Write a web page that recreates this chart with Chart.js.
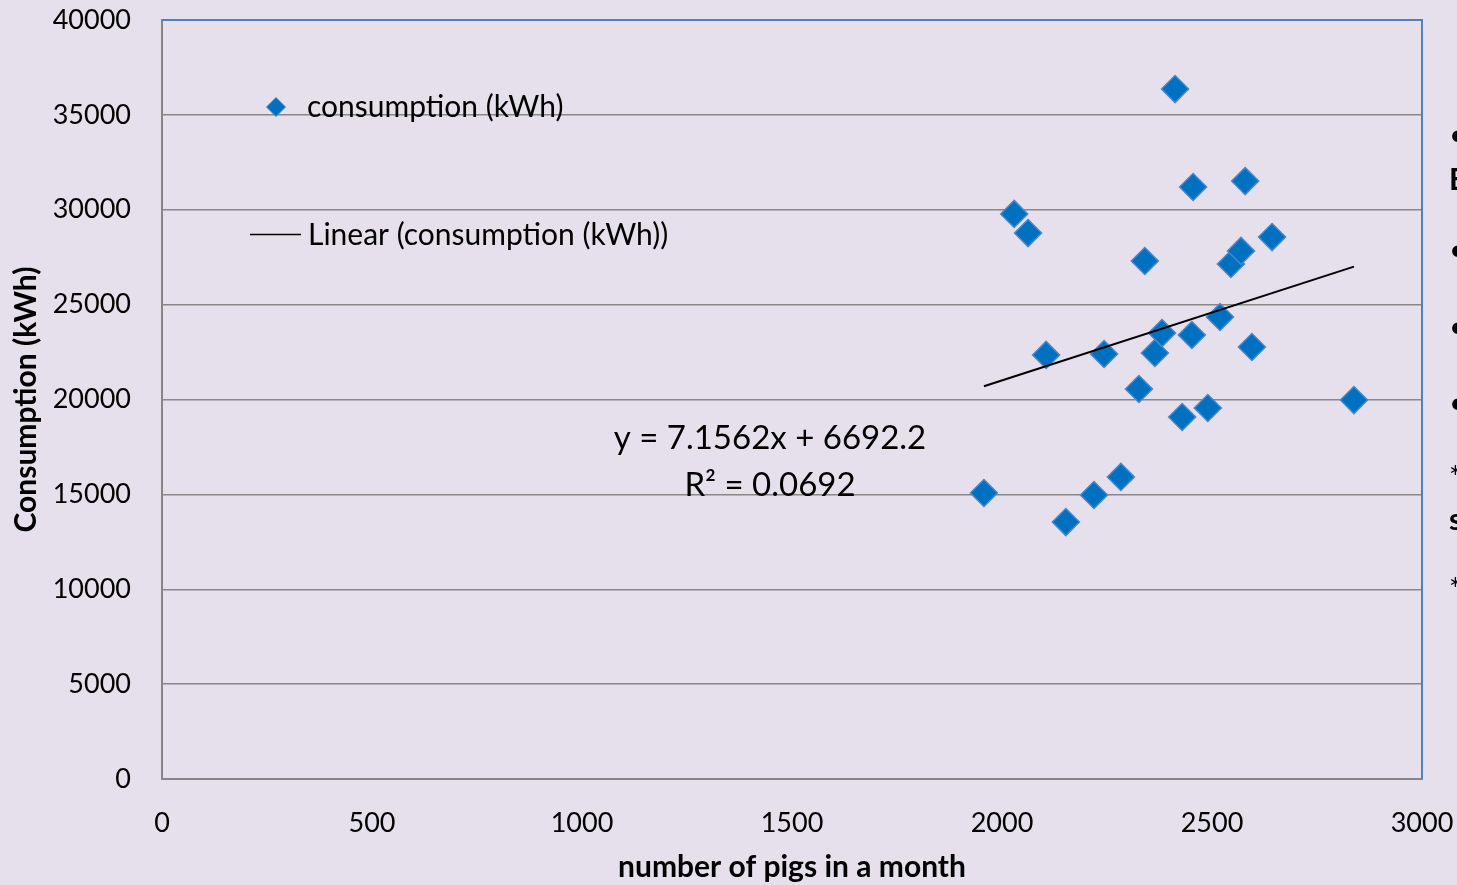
<!DOCTYPE html>
<html>
<head>
<meta charset="utf-8">
<script src="https://cdn.jsdelivr.net/npm/chart.js@4/dist/chart.umd.min.js"></script>
<style>
  html, body { margin: 0; padding: 0; background: #E5E0EC; overflow: hidden; }
  #wrap { width: 1457px; height: 885px; position: relative; }
</style>
</head>
<body>
<div id="wrap"><canvas id="c" width="1457" height="885"></canvas></div>
<script>
// Monthly herd size vs. electricity consumption
const pigs = [1957, 2029, 2062, 2105, 2152, 2219, 2243, 2283, 2326, 2340, 2364, 2381,
              2412, 2429, 2452, 2455, 2490, 2519, 2545, 2569, 2579, 2595, 2643, 2838];
const consumption = [15070, 29780, 28770, 22350, 13540, 14970, 22400, 15920, 20550, 27300, 22450, 23500,
                     36360, 19080, 23400, 31200, 19550, 24350, 27140, 27830, 31510, 22770, 28560, 19970];

// Linear trend as reported by the fit
const trendSlope = 7.1562;
const trendIntercept = 6692.2;
const rSquared = 0.0692;

const xTicks = [0, 500, 1000, 1500, 2000, 2500, 3000];
const yTicks = [0, 5000, 10000, 15000, 20000, 25000, 30000, 35000, 40000];

const seriesName = 'consumption (kWh)';
const trendName = 'Linear (consumption (kWh))';
const xTitle = 'number of pigs in a month';
const yTitle = 'Consumption (kWh)';
const sideText = ['•', 'E', '•', '•', '•', '*', 's', '*'];

const FONT = 'Lato, "Open Sans", sans-serif';
const pointFill = '#0070C0';
const pointEdge = '#4A86C8';

const points = pigs.map((x, i) => ({ x, y: consumption[i] }));
const xMin = Math.min(...pigs), xMax = Math.max(...pigs);
const trendPoints = [xMin, xMax].map(x => ({ x, y: trendSlope * x + trendIntercept }));

// keep tick label overflow from shrinking the plot area
const noEdgePadding = s => {
  s.paddingTop = 0; s.paddingBottom = 0; s.paddingLeft = 0; s.paddingRight = 0;
};

const decor = {
  id: 'decor',
  beforeDraw(chart) {
    const ctx = chart.ctx;
    ctx.save();
    ctx.fillStyle = '#E5E0EC';
    ctx.fillRect(0, 0, chart.width, chart.height);
    ctx.restore();
  },
  beforeDatasetsDraw(chart) {
    const { ctx, chartArea: a } = chart;
    ctx.save();
    ctx.strokeStyle = '#4F81BD';
    ctx.lineWidth = 2;
    ctx.beginPath();
    ctx.moveTo(a.left, a.top);
    ctx.lineTo(a.right, a.top);
    ctx.lineTo(a.right, a.bottom);
    ctx.stroke();
    ctx.restore();
  },
  afterDraw(chart) {
    const ctx = chart.ctx;
    ctx.save();
    // legend
    const dx = 276, dy = 107, r = 9.5;
    ctx.beginPath();
    ctx.moveTo(dx, dy - r); ctx.lineTo(dx + r, dy); ctx.lineTo(dx, dy + r); ctx.lineTo(dx - r, dy); ctx.closePath();
    ctx.fillStyle = pointFill; ctx.fill();
    ctx.strokeStyle = pointEdge; ctx.lineWidth = 1; ctx.stroke();
    ctx.strokeStyle = '#000'; ctx.lineWidth = 1.5;
    ctx.beginPath(); ctx.moveTo(250, 234.5); ctx.lineTo(301, 234.5); ctx.stroke();
    ctx.fillStyle = '#000';
    ctx.font = '30px ' + FONT;
    ctx.textAlign = 'left'; ctx.textBaseline = 'middle';
    ctx.fillText(seriesName, 307, 107);
    ctx.fillText(trendName, 308, 235);
    // trend equation
    ctx.font = '33px ' + FONT;
    ctx.textAlign = 'center';
    ctx.fillText('y = ' + trendSlope + 'x + ' + trendIntercept, 770, 438);
    ctx.fillText('R² = ' + rSquared, 770, 485);
    // neighbouring slide text
    ctx.textAlign = 'left';
    const ys = [135, 180, 250, 327, 403, 478, 520, 590];
    sideText.forEach((t, i) => {
      ctx.font = (t === 'E' || t === 's' ? 'bold ' : '') + '30px ' + FONT;
      ctx.fillText(t, 1449, ys[i]);
    });
    ctx.restore();
  }
};

new Chart(document.getElementById('c'), {
  type: 'scatter',
  data: {
    datasets: [
      {
        label: trendName,
        data: trendPoints,
        showLine: true,
        borderColor: '#000',
        borderWidth: 2,
        pointRadius: 0,
        fill: false,
        order: 0
      },
      {
        label: seriesName,
        data: points,
        pointStyle: 'rectRot',
        radius: 13.5,
        backgroundColor: pointFill,
        borderColor: pointEdge,
        borderWidth: 1.5,
        order: 1
      }
    ]
  },
  options: {
    responsive: false,
    animation: false,
    events: [],
    layout: { padding: { top: 20, right: 35, left: 0, bottom: 0 } },
    plugins: { legend: { display: false }, tooltip: { enabled: false } },
    scales: {
      x: {
        type: 'linear',
        min: 0, max: 3000,
        afterBuildTicks: s => { s.ticks = xTicks.map(v => ({ value: v })); },
        afterFit: s => { s.height = 106; noEdgePadding(s); },
        grid: { display: false },
        border: { display: true, color: '#868686', width: 2 },
        ticks: { color: '#000', font: { family: FONT, size: 27 }, padding: 20, maxRotation: 0,
                 callback: v => String(v) },
        title: { display: true, text: xTitle, color: '#000',
                 font: { family: FONT, size: 30, weight: 'bold', lineHeight: 1.15 }, padding: 0 }
      },
      y: {
        type: 'linear',
        min: 0, max: 40000,
        afterBuildTicks: s => { s.ticks = yTicks.map(v => ({ value: v })); },
        afterFit: s => { s.width = 162; noEdgePadding(s); },
        grid: { color: '#888888', lineWidth: 1.5, drawTicks: false },
        border: { display: true, color: '#868686', width: 2 },
        ticks: { color: '#000', font: { family: FONT, size: 27 }, padding: 31,
                 callback: v => String(v) },
        title: { display: true, text: yTitle, color: '#000',
                 font: { family: FONT, size: 30, weight: 'bold', lineHeight: 1.2 },
                 padding: { top: 8, bottom: 0 } }
      }
    }
  },
  plugins: [decor]
});
</script>
</body>
</html>
